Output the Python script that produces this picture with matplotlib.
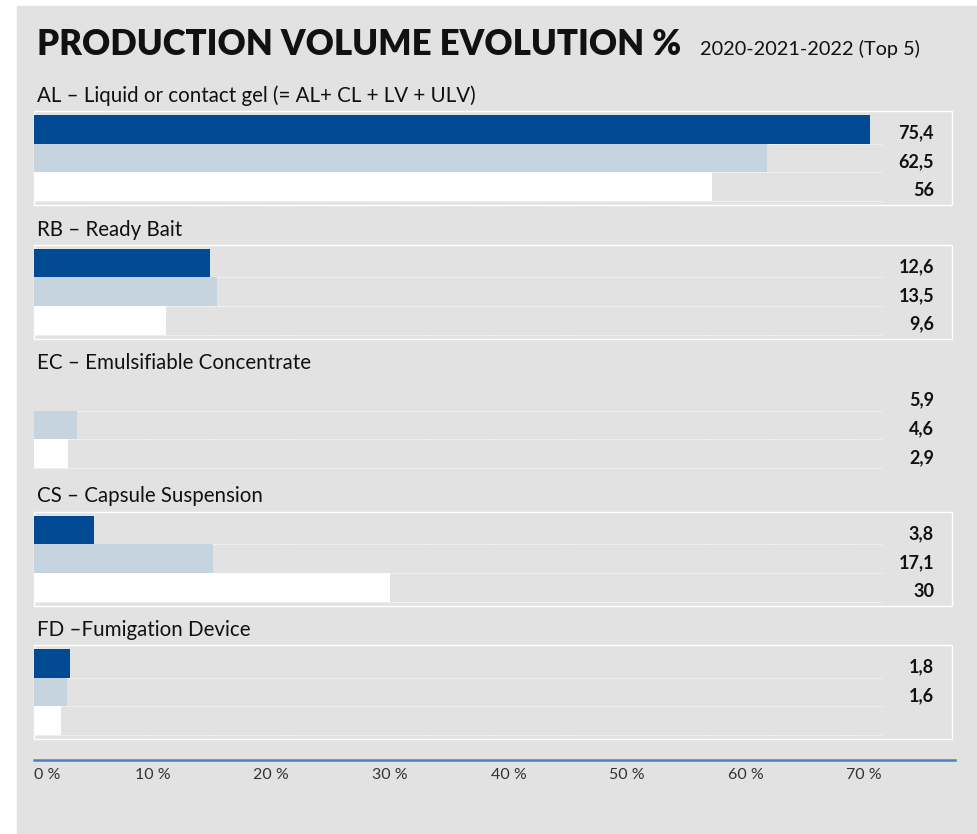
import matplotlib.pyplot as plt
from matplotlib.patches import Rectangle

# categories (top to bottom)
categories = ['AL – Liquid or contact gel (= AL+ CL + LV + ULV)',
              'RB – Ready Bait',
              'EC – Emulsifiable Concentrate',
              'CS – Capsule Suspension',
              'FD –Fumigation Device']
years = ['2020', '2021', '2022']

# bar lengths as drawn on the % axis
bars_2020 = [70.5, 14.8, 0.0, 5.1, 3.0]
bars_2021 = [61.8, 15.4, 3.6, 15.1, 2.8]
bars_2022 = [57.2, 11.1, 2.9, 30.0, 2.3]

# value labels printed at the right
labels_2020 = ['75,4', '12,6', '5,9', '3,8', '1,8']
labels_2021 = ['62,5', '13,5', '4,6', '17,1', '1,6']
labels_2022 = ['56', '9,6', '2,9', '30', '']

boxed = [True, True, False, True, True]

ticks = [0, 10, 20, 30, 40, 50, 60, 70]

dark_blue = '#004a93'
light_blue = '#c5d4de'
bg = '#e2e2e2'

W, H = 977, 834
fig = plt.figure(figsize=(W / 100, H / 100), dpi=100, facecolor='white')
fig.patches.append(Rectangle((17 / W, 0), 1 - 17 / W, 1 - 6 / H,
                             transform=fig.transFigure, color=bg, zorder=-10))

px_per_pct = 11.86
x0, x1 = 34, 955
ax = fig.add_axes([x0 / W, 1 - 760 / H, (x1 - x0) / W, 760 / H])
ax.set_facecolor('none')
ax.set_xlim(0, (x1 - x0) / px_per_pct)
ax.set_ylim(760, 0)

first_top = 111
step = 133.5
bar_h = 28.7
box_h = 94
dot_end = (882 - x0) / px_per_pct
lab_x = (934 - x0) / px_per_pct

series = [(bars_2020, labels_2020, dark_blue),
          (bars_2021, labels_2021, light_blue),
          (bars_2022, labels_2022, 'white')]

for i, cat in enumerate(categories):
    top = first_top + i * step
    ax.text(0.25, top - 15, cat, fontsize=14.8, family='Lato', color='#111111',
            va='center', ha='left')
    if boxed[i]:
        ax.add_patch(Rectangle((0, top), (952 - x0) / px_per_pct, box_h,
                               fill=False, edgecolor='white', lw=1.0,
                               clip_on=False, zorder=1))
    for j, (vals, labs, col) in enumerate(series):
        y = top + 4 + j * bar_h
        ax.plot([0, dot_end], [y + bar_h, y + bar_h], color='white', lw=0.7,
                ls=(0, (1, 1)), alpha=0.9, zorder=1)
        ax.barh(y, vals[i], height=bar_h, align='edge', color=col,
                edgecolor='none', zorder=2)
        ax.text(lab_x, y + bar_h - 5, labs[i], fontsize=13, family='Lato',
                fontweight='bold', color='#111111', ha='right', va='baseline')

for s in ['top', 'left', 'right']:
    ax.spines[s].set_visible(False)
ax.spines['bottom'].set_color('#4f81bd')
ax.spines['bottom'].set_linewidth(1.8)
ax.set_yticks([])
ax.set_xticks(ticks)
ax.set_xticklabels([f'{t} %' for t in ticks])
ax.tick_params(axis='x', length=0, pad=6, labelsize=11.5, labelcolor='#333333')
for lbl in ax.get_xticklabels():
    lbl.set_family('Lato')
ax.get_xticklabels()[0].set_ha('left')

fig.text(37 / W, 1 - 55 / H, 'PRODUCTION VOLUME EVOLUTION %', fontsize=25,
         family='Lato', fontweight='heavy', color='#111111', va='baseline')
fig.text(700 / W, 1 - 55 / H, '2020-2021-2022 (Top 5)', fontsize=14.3,
         family='Lato', color='#111111', va='baseline')

fig.savefig('out.png', dpi=100, facecolor='white')
